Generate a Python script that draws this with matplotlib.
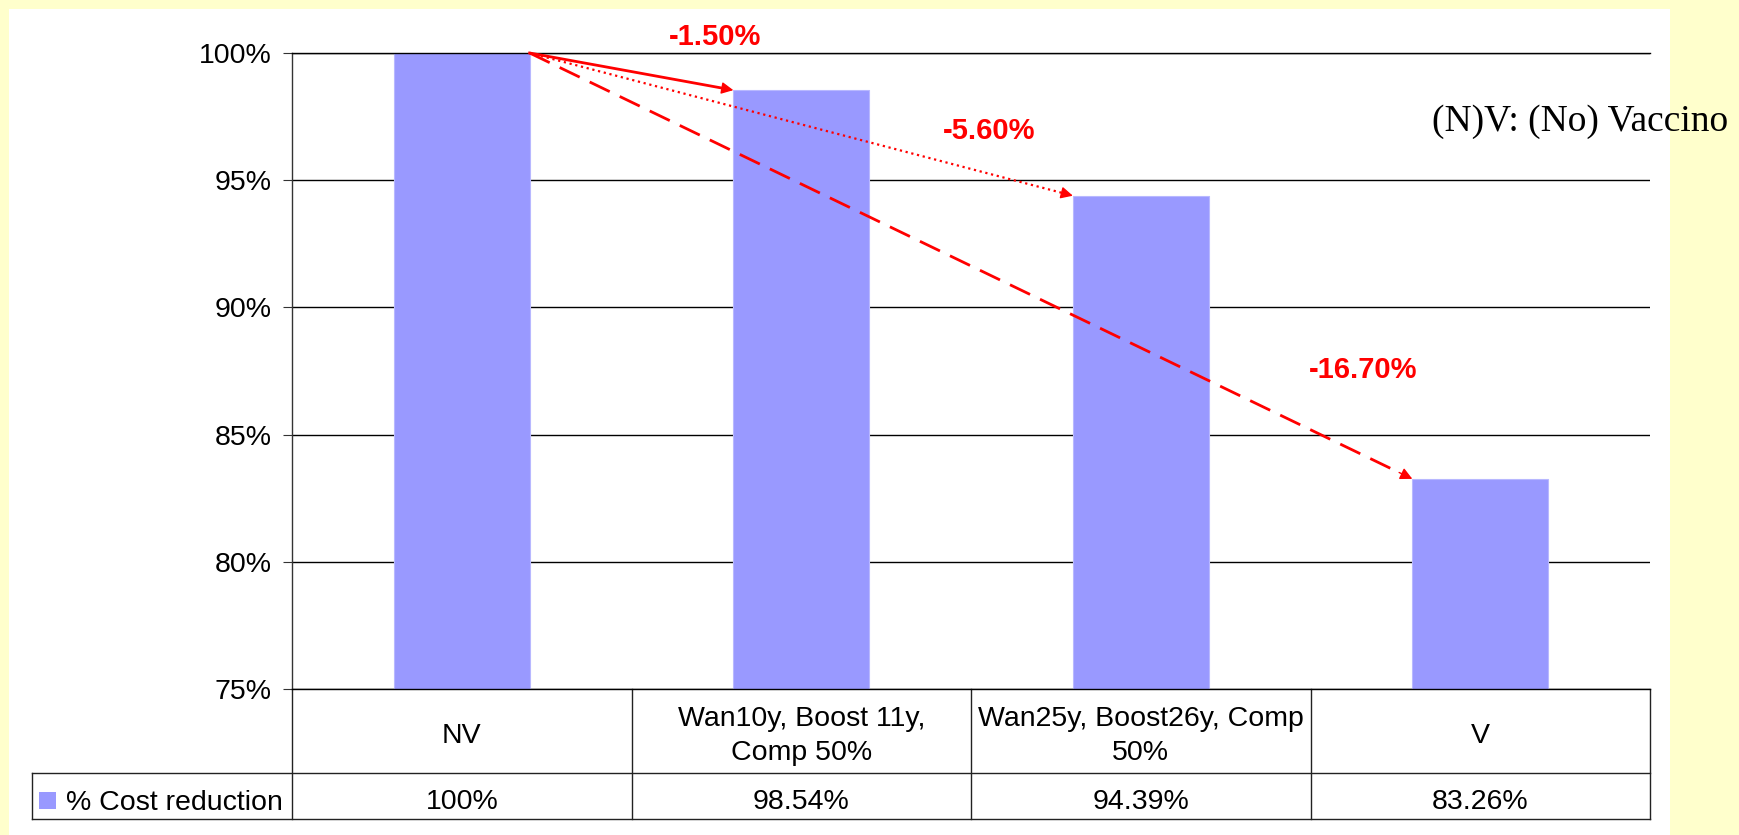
import numpy as np
import matplotlib.pyplot as plt
import matplotlib.transforms as mtransforms
from matplotlib.patches import Rectangle

plt.rcParams['font.family'] = 'Liberation Sans'

# dati
categories = ['NV', 'Wan10y, Boost 11y,\nComp 50%', 'Wan25y, Boost26y, Comp\n50%', 'V']
cost = [100.0, 98.54, 94.39, 83.26]
cost_labels = ['100%', '98.54%', '94.39%', '83.26%']
series_name = '% Cost reduction'
drop_labels = ['-1.50%', '-5.60%', '-16.70%']
drop_styles = ['-', ':', (0, (8, 4))]
drop_label_pos = [(0.745, 100.63), (1.552, 96.95), (2.655, 87.55)]
yticks = [75, 80, 85, 90, 95, 100]

bar_color = '#9999FF'
width = 0.4

fig = plt.figure(figsize=(17.4, 8.35), dpi=100, facecolor='#FFFFCC')
# pannello bianco dietro al grafico
fig.patches.append(Rectangle((9 / 1740, 0), 1661 / 1740, 826 / 835,
                             transform=fig.transFigure, facecolor='white',
                             edgecolor='none', zorder=-10))

ax = fig.add_axes([292 / 1740, 1 - 689 / 835, 1358 / 1740, 636 / 835])
ax.set_facecolor('white')

x = np.arange(len(categories))
ax.bar(x, cost, width=width, color=bar_color, edgecolor='#B8B8FF', linewidth=0.8, zorder=2)

ax.set_xlim(-0.5, 3.5)
ax.set_ylim(75, 100)
ax.set_yticks(yticks)
ax.set_yticklabels([f'{v}%' for v in yticks], fontsize=20.5)
ax.tick_params(axis='y', length=6.5, width=0.8, pad=8, color='#333333')
ax.set_xticks([])
ax.set_axisbelow(True)
ax.yaxis.grid(True, color='black', linewidth=1.0)
for side in ['top', 'bottom']:
    ax.spines[side].set_color('black')
    ax.spines[side].set_linewidth(1.0)
ax.spines['left'].set_color('#333333')
ax.spines['left'].set_linewidth(1.0)
ax.spines['right'].set_visible(False)

# frecce di riduzione dal primo scenario
x0, y0 = x[0] + width / 2, cost[0]
for i in range(1, 4):
    x1, y1 = x[i] - width / 2, cost[i]
    # linea senza punta, poi la punta piena
    t = 0.97 if i == 1 else 0.985
    xs, ys = x0 + (x1 - x0) * t, y0 + (y1 - y0) * t
    lw = 2.0 if i != 2 else 1.6
    ax.plot([x0, xs], [y0, ys], color='red', lw=lw, linestyle=drop_styles[i - 1],
            zorder=4, clip_on=False)
    ax.annotate('', xy=(x1, y1), xytext=(xs, ys),
                arrowprops=dict(arrowstyle='-|>', color='red', lw=1.0,
                                mutation_scale=18, shrinkA=0, shrinkB=0),
                zorder=5, annotation_clip=False)
    lx, ly = drop_label_pos[i - 1]
    ax.text(lx, ly, drop_labels[i - 1], color='red', fontsize=21, fontweight='bold',
            ha='center', va='center', clip_on=False)

ax.text(2.858, 97.3, '(N)V: (No) Vaccino', family='Liberation Serif', fontsize=27,
        ha='left', va='center', clip_on=False)

# tabella dati sotto il grafico
trans = mtransforms.blended_transform_factory(ax.transData, ax.transAxes)
line_kw = dict(color='#222222', lw=1.0, transform=trans, clip_on=False)
row1 = -84 / 636
row2 = -130 / 636
label_left = -1.266
edges = np.arange(len(categories) + 1) - 0.5
for e in edges:
    ax.plot([e, e], [0, row2], **line_kw)
ax.plot([label_left, label_left], [row1, row2], **line_kw)
ax.plot([label_left, edges[-1]], [row1, row1], **line_kw)
ax.plot([label_left, edges[-1]], [row2, row2], **line_kw)

for i, cat in enumerate(categories):
    ax.text(x[i], row1 / 2 - 5 / 636, cat, ha='center', va='center', fontsize=20.5,
            linespacing=1.35, transform=trans, clip_on=False)
    ax.text(x[i], -120 / 636, cost_labels[i], ha='center', va='baseline', fontsize=20.5,
            transform=trans, clip_on=False)

ax.add_patch(Rectangle((-1.245, -120 / 636), 0.05, 17 / 636, transform=trans,
                       facecolor=bar_color, edgecolor='none', clip_on=False))
ax.text(-1.166, -121 / 636, series_name, ha='left', va='baseline', fontsize=20.5,
        transform=trans, clip_on=False)

fig.savefig('out.png', dpi=100, facecolor=fig.get_facecolor())
